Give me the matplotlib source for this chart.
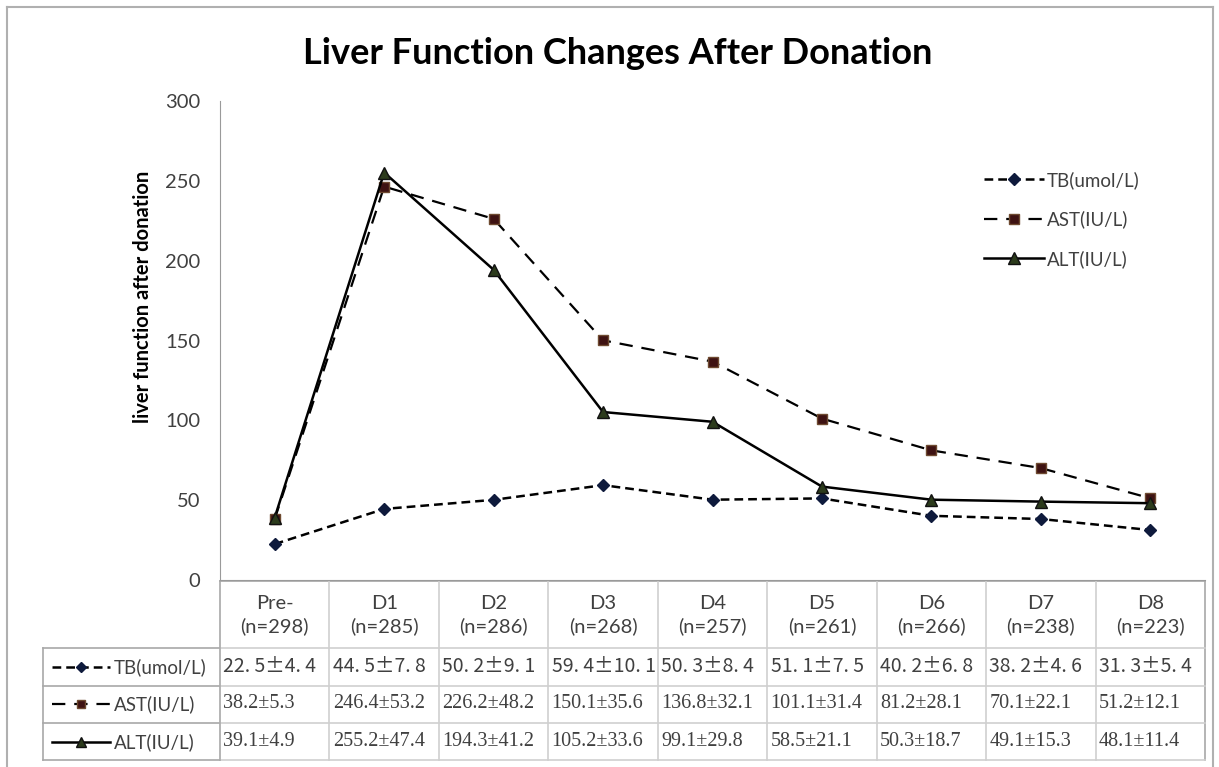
import matplotlib
matplotlib.use("Agg")
import matplotlib.pyplot as plt
from matplotlib.lines import Line2D
from matplotlib.transforms import blended_transform_factory

# ---------------- data ----------------
categories = ["Pre-", "D1", "D2", "D3", "D4", "D5", "D6", "D7", "D8"]
n_values = [298, 285, 286, 268, 257, 261, 266, 238, 223]
tb = [22.5, 44.5, 50.2, 59.4, 50.3, 51.1, 40.2, 38.2, 31.3]
ast = [38.2, 246.4, 226.2, 150.1, 136.8, 101.1, 81.2, 70.1, 51.2]
alt = [39.1, 255.2, 194.3, 105.2, 99.1, 58.5, 50.3, 49.1, 48.1]
tb_text = ["22. 5±4. 4", "44. 5±7. 8", "50. 2±9. 1", "59. 4±10. 1", "50. 3±8. 4",
           "51. 1±7. 5", "40. 2±6. 8", "38. 2±4. 6", "31. 3±5. 4"]
ast_text = ["38.2±5.3", "246.4±53.2", "226.2±48.2", "150.1±35.6", "136.8±32.1",
            "101.1±31.4", "81.2±28.1", "70.1±22.1", "51.2±12.1"]
alt_text = ["39.1±4.9", "255.2±47.4", "194.3±41.2", "105.2±33.6", "99.1±29.8",
            "58.5±21.1", "50.3±18.7", "49.1±15.3", "48.1±11.4"]
series_labels = ["TB(umol/L)", "AST(IU/L)", "ALT(IU/L)"]
y_ticks = [0, 50, 100, 150, 200, 250, 300]

W, H = 1219, 767
fig = plt.figure(figsize=(W / 100, H / 100), dpi=100)
fig.patch.set_facecolor("white")

def fx(px):
    return px / W

def fy(py):
    return 1 - py / H

ax = fig.add_axes([fx(220), fy(580), fx(1205) - fx(220), fy(101) - fy(580)])
x = list(range(len(categories)))
ax.set_xlim(-0.5, len(categories) - 0.5)
ax.set_ylim(0, 300)

styles = [
    dict(color="black", lw=1.8, ls=(0, (3.5, 2)), marker="D", ms=6.5,
         mfc="#0e1a3c", mec="#0e1a3c"),
    dict(color="black", lw=1.6, ls=(0, (6, 4)), marker="s", ms=7,
         mfc="#3e1212", mec="#6e4a30"),
    dict(color="black", lw=1.8, ls="-", marker="^", ms=8,
         mfc="#2c3b1c", mec="#111111"),
]
for vals, st, lab in zip([tb, ast, alt], styles, series_labels):
    ax.plot(x, vals, label=lab, zorder=3, **st)

ax.set_yticks(y_ticks)
ax.set_xticks([])
ax.tick_params(axis="y", length=0, pad=14, labelsize=14.5, labelcolor="#404040")
for lbl in ax.get_yticklabels():
    lbl.set_family("Lato")
for s in ["top", "right"]:
    ax.spines[s].set_visible(False)
ax.spines["left"].set_color("#9a9a9a")
ax.spines["bottom"].set_color("#9a9a9a")
ax.patch.set_alpha(0)

fig.text(fx(143), fy(297), "liver function after donation", rotation=90,
         ha="center", va="center", fontsize=14.5, fontweight="bold",
         family="Lato", color="black")

leg = ax.legend(loc="upper left",
                bbox_to_anchor=((984 - 220) / 985, 1 - (171 - 101) / 479),
                frameon=False, handlelength=3.2, handletextpad=0.15,
                labelspacing=1.15, borderaxespad=0, borderpad=0,
                prop={"family": "Lato", "size": 13.5})
for t in leg.get_texts():
    t.set_color("#404040")

fig.text(fx(618), fy(53), "Liver Function Changes After Donation", ha="center",
         va="center", fontsize=26, fontweight="bold", family="Lato", color="black")

# ---------------- data table ----------------
bt = blended_transform_factory(ax.transData, fig.transFigure)
grid_c = "#cfcfcf"
box_c = "#a8a8a8"
row_y = [581, 648, 686, 723, 760]

ax.add_line(Line2D([-0.5, len(categories) - 0.5], [fy(581)] * 2, transform=bt,
                   color=box_c, lw=1.2, clip_on=False))
for i in range(len(categories) + 1):
    c = box_c if i in (0, len(categories)) else grid_c
    ax.add_line(Line2D([i - 0.5] * 2, [fy(581), fy(760)], transform=bt,
                       color=c, lw=1.2, clip_on=False))
for yy in row_y[1:]:
    ax.add_line(Line2D([-0.5, len(categories) - 0.5], [fy(yy)] * 2, transform=bt,
                       color=grid_c, lw=1.2, clip_on=False))

for i, (cat, n) in enumerate(zip(categories, n_values)):
    ax.text(i, fy(615), f"{cat}\n(n={n})", transform=bt, ha="center", va="center",
            fontsize=14.5, family="Lato", color="#404040", linespacing=1.3)

row_centers = [667, 704, 742]
for texts, yc, fam, fs in zip([tb_text, ast_text, alt_text], row_centers,
                              [["Noto Sans CJK SC", "DejaVu Sans"],
                               ["Liberation Serif"], ["Liberation Serif"]],
                              [14, 14.5, 14.5]):
    for i, t in enumerate(texts):
        ax.text(i - 0.47, fy(yc), t, transform=bt, ha="left", va="center",
                fontsize=fs, family=fam, color="#404040")

# row label box
for yy in row_y[1:]:
    fig.add_artist(Line2D([fx(43), fx(220)], [fy(yy)] * 2, color=box_c, lw=1.2))
fig.add_artist(Line2D([fx(43)] * 2, [fy(648), fy(760)], color=box_c, lw=1.2))

for st, lab, yc in zip(styles, series_labels, row_centers):
    fig.add_artist(Line2D([fx(52), fx(110)], [fy(yc)] * 2, color=st["color"],
                          lw=st["lw"], ls=st["ls"]))
    fig.add_artist(Line2D([fx(81)], [fy(yc)], ls="none",
                          marker=st["marker"], ms=st["ms"] - 1, mfc=st["mfc"],
                          mec=st["mec"]))
    fig.text(fx(114), fy(yc), lab, ha="left", va="center", fontsize=13.5,
             family="Lato", color="#404040")

# outer chart border
for xs, ys in [([7, 7], [7, 767]), ([7, 1213], [7, 7]), ([1213, 1213], [7, 767])]:
    fig.add_artist(Line2D([fx(v) for v in xs], [fy(v) for v in ys],
                          color="#b0b0b0", lw=1.5))

fig.savefig("out.png", dpi=100, facecolor="white")
